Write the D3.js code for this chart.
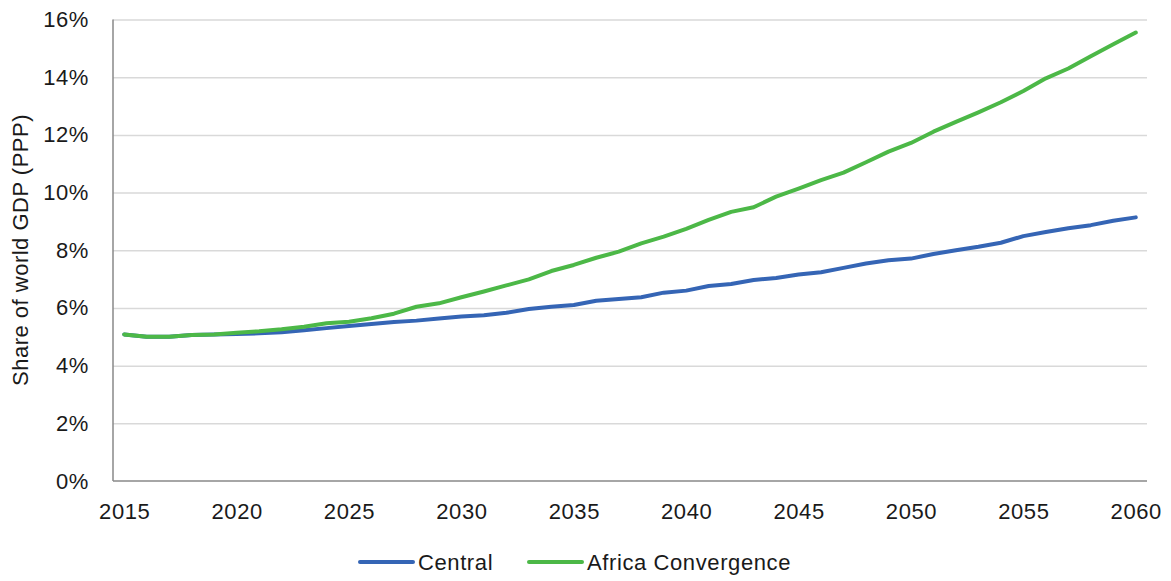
<!DOCTYPE html>
<html>
<head>
<meta charset="utf-8">
<script src="https://cdn.jsdelivr.net/npm/d3@7"></script>
<style>
  html, body { margin: 0; padding: 0; background: #ffffff; }
  svg { display: block; font-family: "Liberation Sans", Arial, Helvetica, sans-serif; }
</style>
</head>
<body>
<svg id="chart" width="1171" height="581"></svg>
<script>
const years = d3.range(2015, 2061);
const central = [
  5.08, 5.00, 5.00, 5.06, 5.08, 5.10, 5.12, 5.16, 5.23, 5.30,
  5.37, 5.44, 5.51, 5.56, 5.63, 5.70, 5.75, 5.83, 5.96, 6.04,
  6.10, 6.25, 6.31, 6.37, 6.53, 6.60, 6.76, 6.83, 6.97, 7.04,
  7.16, 7.24, 7.39, 7.54, 7.65, 7.71, 7.87, 8.00, 8.12, 8.26,
  8.49, 8.63, 8.76, 8.87, 9.02, 9.14
];
const africa = [
  5.08, 5.00, 5.00, 5.06, 5.08, 5.14, 5.19, 5.26, 5.35, 5.47,
  5.52, 5.64, 5.80, 6.04, 6.16, 6.37, 6.57, 6.78, 6.99, 7.28,
  7.49, 7.74, 7.95, 8.24, 8.47, 8.74, 9.05, 9.33, 9.49, 9.86,
  10.14, 10.43, 10.69, 11.05, 11.42, 11.72, 12.11, 12.45, 12.78, 13.13,
  13.52, 13.96, 14.30, 14.73, 15.14, 15.55
];
const yTicks = [0, 2, 4, 6, 8, 10, 12, 14, 16];
const xTickYears = [2015, 2020, 2025, 2030, 2035, 2040, 2045, 2050, 2055, 2060];
const seriesNames = ["Central", "Africa Convergence"];
const seriesColors = ["#3565b5", "#4cb847"];

const svg = d3.select("#chart");
const plot = { left: 113, right: 1147, top: 19.5, bottom: 481 };

const x = d3.scalePoint().domain(years).range([plot.left, plot.right]).padding(0.5);
const y = d3.scaleLinear().domain([0, 16]).range([plot.bottom, plot.top]);

// gridlines
svg.append("g")
  .attr("transform", `translate(${plot.left},0)`)
  .call(d3.axisLeft(y).tickValues(yTicks.filter(d => d > 0)).tickSize(-(plot.right - plot.left)).tickFormat(""))
  .call(g => g.select(".domain").remove())
  .call(g => g.selectAll("line").attr("stroke", "#d9d9d9").attr("stroke-width", 1.5));

// y axis labels
svg.append("g")
  .attr("transform", `translate(${plot.left},0)`)
  .call(d3.axisLeft(y).tickValues(yTicks).tickSize(0).tickPadding(24).tickFormat(d => d + "%"))
  .call(g => g.select(".domain").remove())
  .call(g => g.selectAll("text").attr("font-size", 22).attr("fill", "#1a1a1a")
    .attr("font-family", "Liberation Sans, Arial, sans-serif").attr("letter-spacing", "0.6px"));

// x axis
svg.append("g")
  .attr("transform", `translate(0,${plot.bottom})`)
  .call(d3.axisBottom(x).tickValues(xTickYears).tickSize(0).tickPadding(22))
  .call(g => g.select(".domain").remove())
  .call(g => g.selectAll("text").attr("font-size", 22).attr("fill", "#1a1a1a")
    .attr("font-family", "Liberation Sans, Arial, sans-serif").attr("letter-spacing", "0.6px"));

// axis lines
svg.append("line").attr("x1", plot.left).attr("x2", plot.right)
  .attr("y1", plot.bottom).attr("y2", plot.bottom)
  .attr("stroke", "#898989").attr("stroke-width", 1.5);
svg.append("line").attr("x1", plot.left).attr("x2", plot.left)
  .attr("y1", plot.top).attr("y2", plot.bottom)
  .attr("stroke", "#898989").attr("stroke-width", 1.5);

// y title
svg.append("text")
  .attr("transform", `translate(28,250) rotate(-90)`)
  .attr("text-anchor", "middle")
  .attr("font-size", 22)
  .attr("letter-spacing", "0.5px")
  .attr("fill", "#1a1a1a")
  .text("Share of world GDP (PPP)");

// lines
const line = d3.line().x((d, i) => x(years[i])).y(d => y(d)).curve(d3.curveLinear);
[central, africa].forEach((vals, i) => {
  svg.append("path")
    .datum(vals)
    .attr("fill", "none")
    .attr("stroke", seriesColors[i])
    .attr("stroke-width", 4)
    .attr("stroke-linecap", "round")
    .attr("stroke-linejoin", "round")
    .attr("d", line);
});

// legend
const legendItems = [
  { name: seriesNames[0], color: seriesColors[0], x0: 360 },
  { name: seriesNames[1], color: seriesColors[1], x0: 529 }
];
const lg = svg.append("g");
legendItems.forEach(it => {
  lg.append("line").attr("x1", it.x0).attr("x2", it.x0 + 53)
    .attr("y1", 562).attr("y2", 562)
    .attr("stroke", it.color).attr("stroke-width", 4).attr("stroke-linecap", "round");
  lg.append("text").attr("x", it.x0 + 58).attr("y", 570)
    .attr("font-size", 22).attr("letter-spacing", "0.6px").attr("fill", "#1a1a1a")
    .text(it.name);
});
</script>
</body>
</html>
